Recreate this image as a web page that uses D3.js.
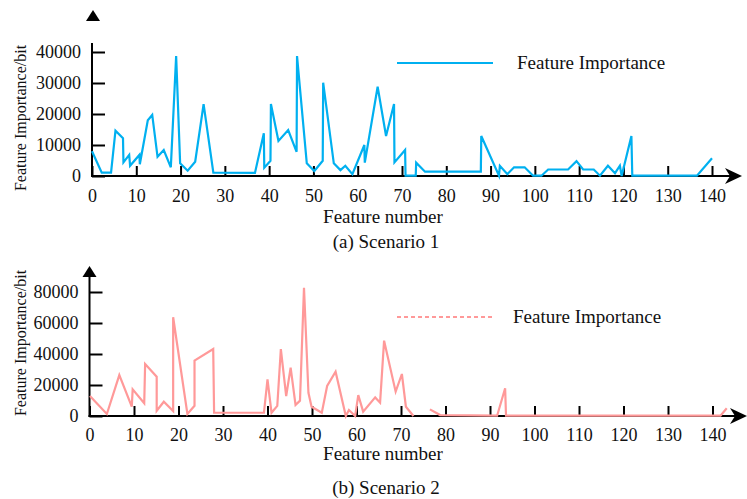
<!DOCTYPE html>
<html>
<head>
<meta charset="utf-8">
<script src="https://cdn.jsdelivr.net/npm/d3@7"></script>
<style>
  body { margin: 0; background: #fff; }
  text { font-family: "Liberation Serif", "Times New Roman", serif; fill: #111; }
</style>
</head>
<body>
<div id="chart"></div>
<script>
// Scenario 1 (feature number, importance)
const s1Features = [0, 2.2, 4.3, 5.3, 7.0, 7.1, 8.4, 8.6, 10.7, 10.8, 12.6, 13.6, 14.8, 16.2, 17.8, 19.0, 19.9, 21.6, 23.3, 25.2,
  27.4, 36.8, 38.8, 38.9, 40.3, 40.4, 42.1, 44.3, 46.2, 46.3, 48.5, 50.2, 52.1, 52.2, 54.6, 56.1, 57.2, 58.8, 61.5, 61.6,
  64.5, 66.4, 68.2, 68.3, 70.7, 70.8, 73.1, 73.2, 75.2, 87.8, 87.9, 91.9, 92.1, 93.8, 95.3, 97.7, 99.6, 101.5, 103.0, 107.5,
  109.4, 110.9, 113.3, 114.7, 116.5, 118.1, 119.2, 119.6, 121.8, 122.0, 136.6, 140];
const s1Values = [8000, 1100, 1100, 14600, 12200, 4400, 6800, 3300, 6800, 3800, 18000, 19700, 6200, 8400, 2800, 38700, 4100, 1700, 4600, 23200,
  1100, 1000, 13800, 2700, 4900, 23200, 11300, 14800, 7800, 38700, 4100, 1600, 4900, 30100, 4100, 1900, 3300, 600, 10000, 4300,
  28800, 12900, 23200, 4400, 8400, 100, 100, 4300, 1400, 1400, 12900, 100, 3300, 600, 2800, 2800, 100, 100, 2100, 2100,
  4800, 2100, 2100, 100, 3300, 900, 3300, 0, 12900, 100, 100, 5700];

// Scenario 2 (null = gap in the line)
const s2Features = [0.1, 3.9, 6.7, 9.5, 9.7, 12.3, 12.5, 15.1, 15.1, 16.7, 18.8, 18.8, 22.0, 23.6, 23.6, 27.8, 28.0, 39.2, 40.0, 40.9,
  42.2, 43.0, 44.2, 45.2, 46.3, 47.3, 48.2, 49.2, 49.9, 52.2, 53.4, 55.3, 57.6, 58.3, 59.7, 60.4, 61.5, 64.2, 65.3, 66.2,
  68.8, 70.2, 71.1, 72.8, 74.5, 76.5, 78.8, 91.6, 93.4, 93.6, 141.8, 143.2];
const s2Values = [12900, 1300, 26400, 6000, 17200, 8200, 33500, 25400, 3400, 9200, 3200, 63700, 1300, 6600, 35700, 43200, 2100, 2100, 23700, 2100,
  6500, 43200, 12900, 31200, 7100, 9900, 82700, 15000, 6000, 2100, 19400, 28600, 0, 3900, 0, 13500, 2800, 12000, 8600, 48600,
  15700, 27100, 6000, 0, null, 4300, 600, 200, 17900, 200, 200, 5000];

const xTicks = d3.range(0, 141, 10);
const legendLabel = 'Feature Importance';

const W = 747, H = 499;
const svg = d3.select('#chart').append('svg').attr('width', W).attr('height', H);

function drawPanel(cfg) {
  const x = d3.scaleLinear().domain([0, 140]).range([cfg.x0, cfg.x140]);
  const y = d3.scaleLinear().domain([0, cfg.yMax]).range([cfg.yBase, cfg.yTop]);
  const g = svg.append('g');

  // y axis
  const yAxis = g.append('g')
    .attr('transform', `translate(${cfg.x0},0)`)
    .call(d3.axisLeft(y).tickValues(cfg.yTicks).tickSize(-13).tickPadding(11).tickFormat(d3.format('d')));
  yAxis.select('.domain').remove();
  yAxis.selectAll('.tick line').attr('stroke', '#000').attr('stroke-width', 2);
  yAxis.selectAll('.tick text').style('font-size', '18px').style('font-family', '"Liberation Serif", serif');

  // x axis
  const xAxis = g.append('g')
    .attr('transform', `translate(0,${cfg.yBase})`)
    .call(d3.axisBottom(x).tickValues(xTicks).tickSize(-10).tickPadding(cfg.xPad));
  xAxis.select('.domain').remove();
  xAxis.selectAll('.tick line').attr('stroke', '#000').attr('stroke-width', 2);
  xAxis.selectAll('.tick text').style('font-size', '18px').style('font-family', '"Liberation Serif", serif');

  // axis lines
  g.append('line').attr('x1', cfg.x0).attr('x2', cfg.x0).attr('y1', cfg.yAxisTop).attr('y2', cfg.yBase + 1)
    .attr('stroke', '#000').attr('stroke-width', 2);
  g.append('line').attr('x1', cfg.x0 - 1).attr('x2', cfg.arrowX - 12).attr('y1', cfg.yBase).attr('y2', cfg.yBase)
    .attr('stroke', '#000').attr('stroke-width', 2);
  g.append('path')
    .attr('d', `M${cfg.arrowX},${cfg.yBase} L${cfg.arrowX - 17},${cfg.yBase - 8} L${cfg.arrowX - 12},${cfg.yBase} L${cfg.arrowX - 17},${cfg.yBase + 8} Z`)
    .attr('fill', '#000');
  g.append('path')
    .attr('d', `M${cfg.x0 + cfg.triDx},${cfg.triTip} L${cfg.x0 + cfg.triDx - 7},${cfg.triTip + 11} L${cfg.x0 + cfg.triDx + 7},${cfg.triTip + 11} Z`)
    .attr('fill', '#000');

  // data line
  const pts = cfg.features.map((f, i) => ({ f: f, v: cfg.values[i] }));
  const line = d3.line()
    .defined(d => d.v !== null)
    .x(d => x(d.f))
    .y(d => y(d.v));
  g.append('path').datum(pts)
    .attr('fill', 'none')
    .attr('stroke', cfg.color)
    .attr('stroke-width', 2.2)
    .attr('stroke-linejoin', 'miter')
    .attr('d', line);

  // legend
  g.append('line').attr('x1', 397).attr('x2', 493).attr('y1', cfg.legendY).attr('y2', cfg.legendY)
    .attr('stroke', cfg.color).attr('stroke-width', 2)
    .attr('stroke-dasharray', cfg.legendDash);
  g.append('text').attr('x', cfg.legendTextX).attr('y', cfg.legendY + 6)
    .style('font-size', '19px').text(legendLabel);

  // labels
  g.append('text').attr('transform', `translate(26,${cfg.yLabelY}) rotate(-90)`)
    .attr('text-anchor', 'middle').style('font-size', '16px').text('Feature Importance/bit');
  g.append('text').attr('x', 383).attr('y', cfg.xLabelY).attr('text-anchor', 'middle')
    .style('font-size', '19px').text('Feature number');
  g.append('text').attr('x', 386).attr('y', cfg.captionY).attr('text-anchor', 'middle')
    .style('font-size', '19px').text(cfg.caption);
}

drawPanel({
  features: s1Features, values: s1Values, color: '#00B0F0',
  x0: 92, x140: 712, yBase: 176, yTop: 52, yMax: 40000, yTicks: [0, 10000, 20000, 30000, 40000],
  yAxisTop: 43, triTip: 10, triDx: 1, arrowX: 742, xPad: 13,
  legendY: 63, legendTextX: 517, legendDash: null,
  yLabelY: 118, xLabelY: 223, captionY: 248, caption: '(a) Scenario 1'
});

drawPanel({
  features: s2Features, values: s2Values, color: '#FF9999',
  x0: 89.5, x140: 712.5, yBase: 416, yTop: 292, yMax: 80000, yTicks: [0, 20000, 40000, 60000, 80000],
  yAxisTop: 277, triTip: 266, triDx: 0, arrowX: 747, xPad: 12,
  legendY: 317, legendTextX: 513, legendDash: '4,3',
  yLabelY: 343, xLabelY: 460, captionY: 494, caption: '(b) Scenario 2'
});
</script>
</body>
</html>
